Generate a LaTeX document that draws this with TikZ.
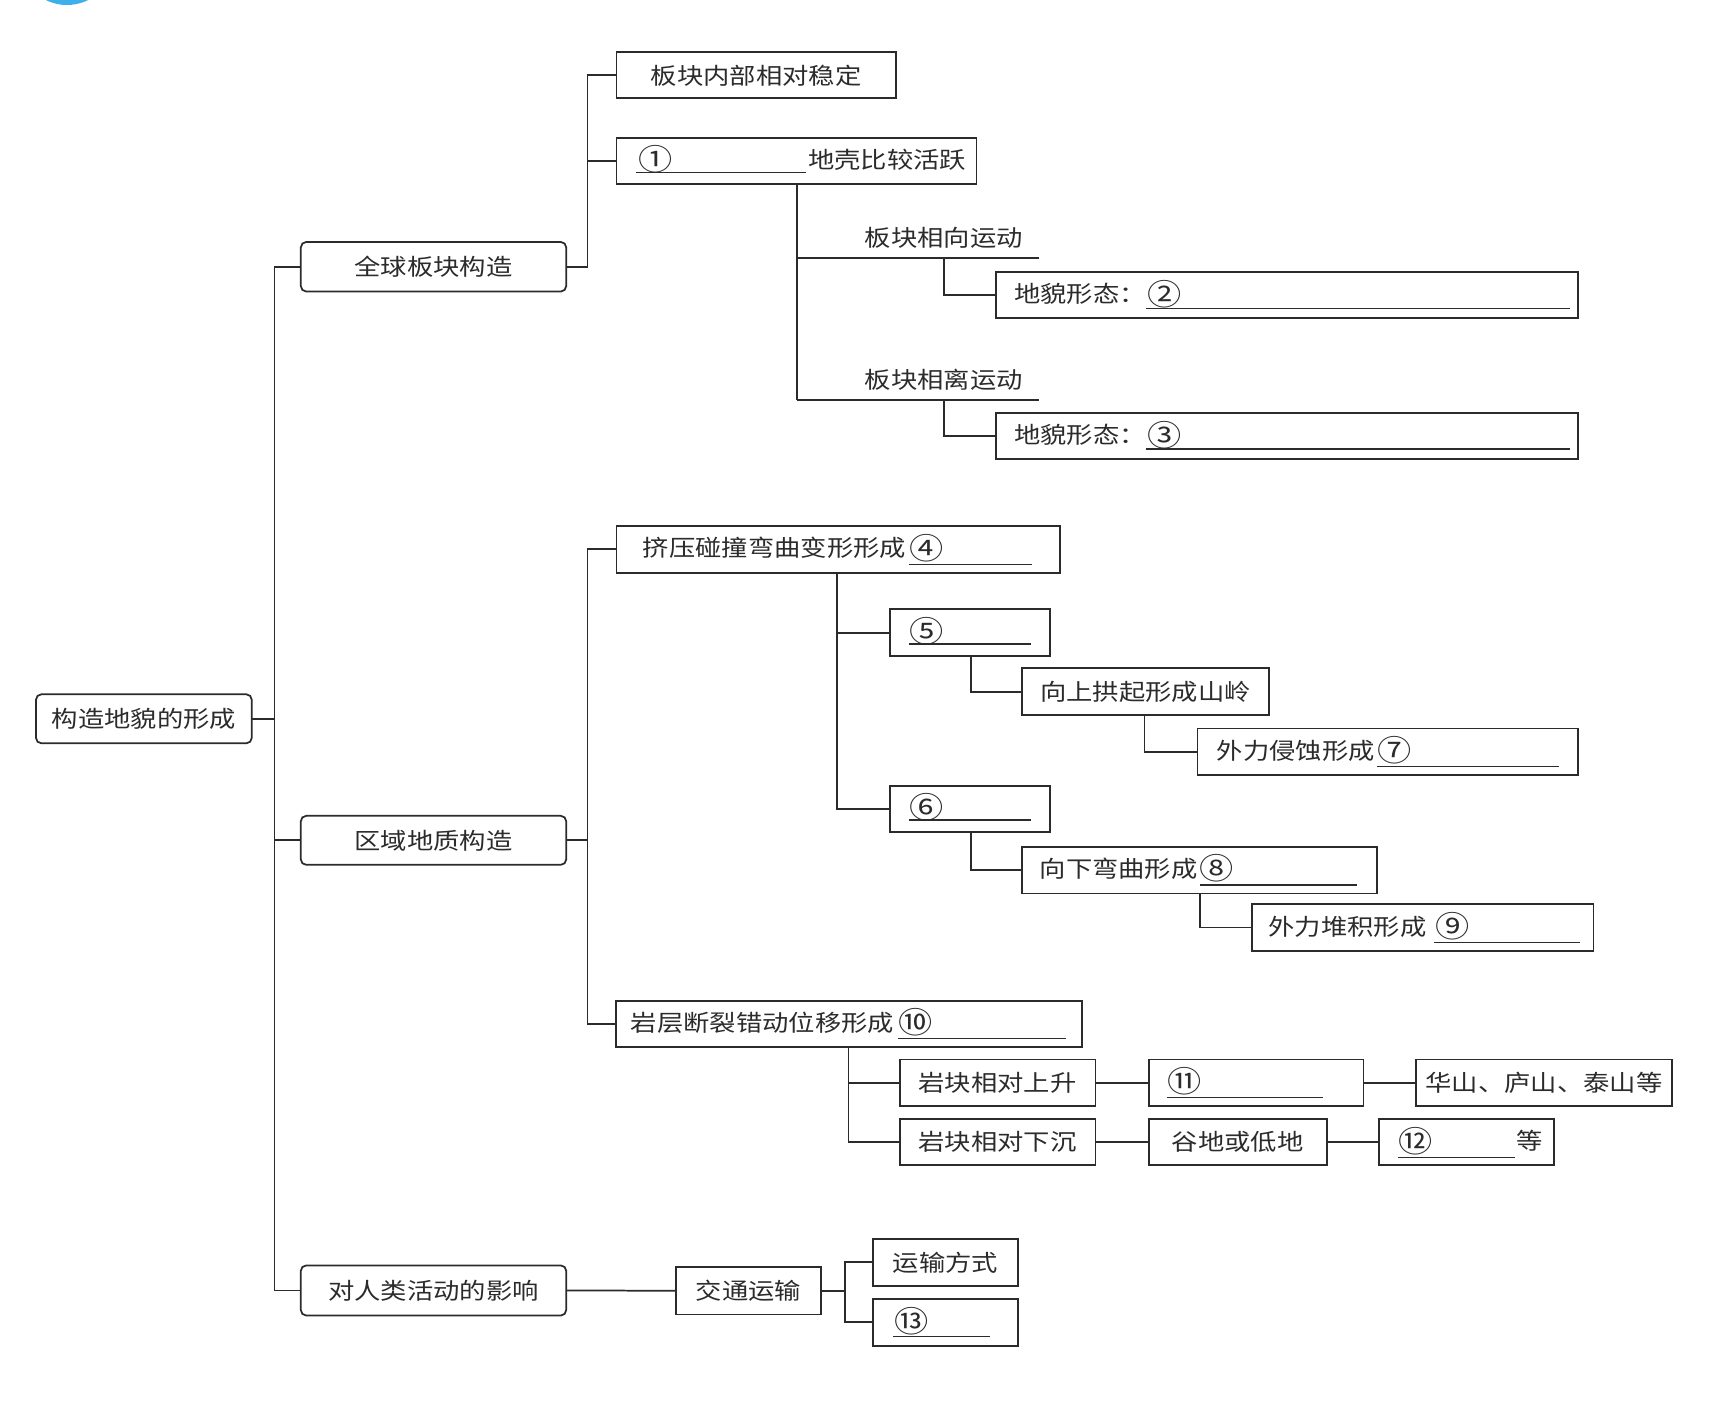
\documentclass[tikz,border=0pt]{standalone}
\usepackage{fontspec}
\newfontfamily\cjk[FakeStretch=1.15]{Noto Sans CJK SC}
\usetikzlibrary{calc}
\definecolor{ink}{HTML}{2B2B2B}
\definecolor{dotblue}{HTML}{3DB0EC}
\tikzset{
  box/.style={draw=ink, line width=0.8pt, inner sep=0pt, outer sep=0pt},
  rbox/.style={box, rounded corners=2.5pt},
  txt/.style={font=\cjk\fontsize{10.5}{12}\selectfont, inner sep=0pt, text=ink},
  link/.style={draw=ink, line width=0.8pt},
  blank/.style={draw=ink, line width=0.6pt},
}
\newcommand\cn[1]{\raisebox{-1pt}{\scalebox{1.3}{#1}}}
\newcommand\bx[6][box]{\node[#1, minimum width={(#5-#3)*0.5pt}, minimum height={(#6-#4)*0.5pt}, anchor=north west] (#2) at (#3,#4) {};}
\begin{document}
\begin{tikzpicture}[x=0.5pt,y=-0.5pt]
\useasboundingbox (0,0) rectangle (1568,1293);
\begin{scope}
  \clip (0,0) rectangle (1568,1293);
  \fill[dotblue] (61.5,-39) circle[radius=43.6];
\end{scope}

% ---------- boxes ----------
\bx[rbox]{root}{33}{637}{231}{682}
\bx[rbox]{La}{276}{222}{519.5}{267.5}
\bx[rbox]{Lb}{276}{748.5}{519.5}{793.5}
\bx[rbox]{Lc}{276}{1161}{519.5}{1207}

\bx{A1}{565.6}{48}{821.8}{90.2}
\bx{A2}{565.6}{126.3}{896}{169.1}
\bx{B1}{914}{249.9}{1448}{292.1}
\bx{B2}{914}{378.6}{1448}{421}

\bx{C1}{565.6}{482.6}{972.2}{525.4}
\bx{C2}{816.6}{559}{963.4}{601.9}
\bx{C3}{937.7}{613.2}{1164.2}{656}
\bx{C4}{1098.6}{668.3}{1448}{711}
\bx{C5}{816.6}{721.2}{963.4}{763.5}
\bx{C6}{937.7}{776.8}{1263.7}{819.7}
\bx{C7}{1148.4}{829.7}{1462}{872.3}

\bx{D1}{565.4}{918.1}{992.5}{960.3}
\bx{D2}{825.5}{972}{1005.1}{1015}
\bx{D3}{825.5}{1026.5}{1005.1}{1069}
\bx{D4}{1054}{972}{1251}{1015}
\bx{D5}{1299}{972}{1534.3}{1015}
\bx{D6}{1054}{1026.5}{1217.2}{1069}
\bx{D7}{1265.4}{1026.5}{1426}{1069}

\bx{E1}{620}{1162.5}{753.4}{1206}
\bx{E2}{801}{1136.8}{933.8}{1179.6}
\bx{E3}{801}{1191.8}{933.8}{1234.7}

% ---------- texts ----------
\node[txt] (roott) at (root.center) {构造地貌的形成};
\node[txt] (Lat) at (La.center) {全球板块构造};
\node[txt] (Lbt) at (Lb.center) {区域地质构造};
\node[txt] (Lct) at (Lc.center) {对人类活动的影响};
\node[txt] (A1t) at (A1.center) {板块内部相对稳定};
\node[txt,anchor=west] (A2n) at (585,146.5) {\cn{①}};
\node[txt,anchor=west] (A2t) at (741,146.5) {地壳比较活跃};
\node[txt] (H1t) at (866,218) {板块相向运动};
\node[txt] (H2t) at (866,348) {板块相离运动};
\node[txt,anchor=west] (B1t) at (930,270) {地貌形态：};
\node[txt,anchor=west] (B1n) at (1052,270) {\cn{②}};
\node[txt,anchor=west] (B2t) at (930,399) {地貌形态：};
\node[txt,anchor=west] (B2n) at (1052,399) {\cn{③}};
\node[txt,anchor=west] (C1t) at (589.5,503) {挤压碰撞弯曲变形形成};
\node[txt,anchor=west] (C1n) at (834,503) {\cn{④}};
\node[txt,anchor=west] (C2t) at (834,579) {\cn{⑤}};
\node[txt] (C3t) at (C3.center) {向上拱起形成山岭};
\node[txt,anchor=west] (C4t) at (1116,688.5) {外力侵蚀形成};
\node[txt,anchor=west] (C4n) at (1263,688.5) {\cn{⑦}};
\node[txt,anchor=west] (C5t) at (834,741) {\cn{⑥}};
\node[txt,anchor=west] (C6t) at (953.5,797) {向下弯曲形成};
\node[txt,anchor=west] (C6n) at (1100,797) {\cn{⑧}};
\node[txt,anchor=west] (C7t) at (1163.5,850) {外力堆积形成};
\node[txt,anchor=west] (C7n) at (1317,850) {\cn{⑨}};
\node[txt,anchor=west] (D1t) at (578.4,938) {岩层断裂错动位移形成};
\node[txt,anchor=west] (D1n) at (824,938) {\cn{⑩}};
\node[txt] (D2t) at (D2.center) {岩块相对上升};
\node[txt] (D3t) at (D3.center) {岩块相对下沉};
\node[txt,anchor=west] (D4t) at (1071,992) {\cn{⑪}};
\node[txt] (D5t) at (D5.center) {华山、庐山、泰山等};
\node[txt] (D6t) at (D6.center) {谷地或低地};
\node[txt,anchor=west] (D7n) at (1283,1047) {\cn{⑫}};
\node[txt,anchor=west] (D7t) at (1391,1047) {等};
\node[txt] (E1t) at (E1.center) {交通运输};
\node[txt] (E2t) at (E2.center) {运输方式};
\node[txt,anchor=west] (E3t) at (820,1212) {\cn{⑬}};

% ---------- blanks (underlines) ----------
\draw[blank] (583.6,158.4) -- (739.9,158.4);
\draw[blank] (1051.5,283.2) -- (1440.5,283.2);
\draw[blank] (1051.5,412) -- (1440.5,412);
\draw[blank] (833.6,517.8) -- (946.5,517.8);
\draw[blank] (833.6,590.9) -- (946,590.9);
\draw[blank] (1263.5,703.4) -- (1430.5,703.4);
\draw[blank] (833.6,752.4) -- (946,752.4);
\draw[blank] (1101,812) -- (1245,812);
\draw[blank] (1316,865) -- (1450,865);
\draw[blank] (824,952.7) -- (978,952.7);
\draw[blank] (1070.6,1006.8) -- (1213.9,1006.8);
\draw[blank] (1282.7,1062.2) -- (1390.3,1062.2);
\draw[blank] (819.5,1226.4) -- (908.3,1226.4);

% ---------- connector coordinates ----------
\coordinate (T) at (251.8,0);
\coordinate (Ba) at (539,0);
\coordinate (Bb) at (539,0);
\coordinate (Ax) at (731,0);
\coordinate (H1L) at (731,237);
\coordinate (H1R) at (953,237);
\coordinate (H2L) at (731,367);
\coordinate (H2R) at (953,367);
\coordinate (V1) at (866,237);
\coordinate (V2) at (866,367);
\coordinate (Cx) at (768,0);
\coordinate (C2x) at (891,0);
\coordinate (C3x) at (1050,0);
\coordinate (C6x) at (1101,0);
\coordinate (Dx) at (778.6,0);
\coordinate (Ex) at (775.3,0);

% ---------- connectors ----------
\draw[link] (root.east) -- (root.east -| T);
\draw[link] (La.west) -- (La.west -| T) -- (Lc.west -| T) -- (Lc.west);
\draw[link] (Lb.west) -- (Lb.west -| T);

\draw[link] (La.east) -- (La.east -| Ba) -- (A1.west -| Ba) -- (A1.west);
\draw[link] (A2.west -| Ba) -- (A2.west);
\draw[link] (A2.south -| Ax) -- (H2L);
\draw[link] (H1L) -- (H1R);
\draw[link] (H2L) -- (H2R);
\draw[link] (V1) |- (B1.west);
\draw[link] (V2) |- (B2.west);

\draw[link] (Lb.east) -- (Lb.east -| Bb);
\draw[link] (C1.west) -- (C1.west -| Bb) -- (D1.west -| Bb) -- (D1.west);
\draw[link] (C1.south -| Cx) -- (C5.west -| Cx) -- (C5.west);
\draw[link] (C2.west -| Cx) -- (C2.west);
\draw[link] (C2.south -| C2x) |- (C3.west);
\draw[link] (C3.south -| C3x) |- (C4.west);
\draw[link] (C5.south -| C2x) |- (C6.west);
\draw[link] (C6.south -| C6x) |- (C7.west);

\draw[link] (D1.south -| Dx) -- (D3.west -| Dx) -- (D3.west);
\draw[link] (D2.west -| Dx) -- (D2.west);
\draw[link] (D2.east) -- (D4.west);
\draw[link] (D4.east) -- (D5.west);
\draw[link] (D3.east) -- (D6.west);
\draw[link] (D6.east) -- (D7.west);

\draw[link] (Lc.east) -- (E1.west);
\draw[link] (E1.east) -- (E1.east -| Ex);
\draw[link] (E2.west) -- (E2.west -| Ex) -- (E3.west -| Ex) -- (E3.west);
\end{tikzpicture}
\end{document}
